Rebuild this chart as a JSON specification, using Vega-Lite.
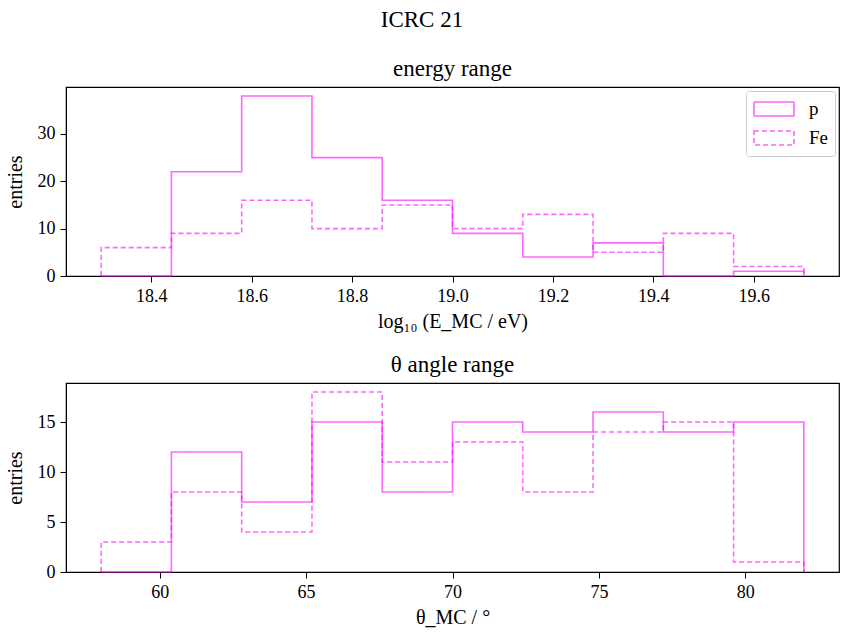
{
  "$schema": "https://vega.github.io/schema/vega-lite/v6.json",
  "padding": {"left": 4, "top": 9, "right": 2, "bottom": 2},
  "title": {"text": "ICRC 21", "fontSize": 23, "font": "Liberation Serif", "fontWeight": "normal", "anchor": "middle", "offset": 25, "color": "black"},
  "datasets": {
    "energy": [
      {"s": "p", "i": 0, "x": 18.3, "y": 0}, {"s": "p", "i": 1, "x": 18.3, "y": 0}, {"s": "p", "i": 2, "x": 18.44, "y": 22}, {"s": "p", "i": 3, "x": 18.58, "y": 38}, {"s": "p", "i": 4, "x": 18.72, "y": 25}, {"s": "p", "i": 5, "x": 18.86, "y": 16}, {"s": "p", "i": 6, "x": 19.0, "y": 9}, {"s": "p", "i": 7, "x": 19.14, "y": 4}, {"s": "p", "i": 8, "x": 19.28, "y": 7}, {"s": "p", "i": 9, "x": 19.42, "y": 0}, {"s": "p", "i": 10, "x": 19.56, "y": 1}, {"s": "p", "i": 11, "x": 19.7, "y": 1}, {"s": "p", "i": 12, "x": 19.7, "y": 0},
      {"s": "Fe", "i": 0, "x": 18.3, "y": 0}, {"s": "Fe", "i": 1, "x": 18.3, "y": 6}, {"s": "Fe", "i": 2, "x": 18.44, "y": 9}, {"s": "Fe", "i": 3, "x": 18.58, "y": 16}, {"s": "Fe", "i": 4, "x": 18.72, "y": 10}, {"s": "Fe", "i": 5, "x": 18.86, "y": 15}, {"s": "Fe", "i": 6, "x": 19.0, "y": 10}, {"s": "Fe", "i": 7, "x": 19.14, "y": 13}, {"s": "Fe", "i": 8, "x": 19.28, "y": 5}, {"s": "Fe", "i": 9, "x": 19.42, "y": 9}, {"s": "Fe", "i": 10, "x": 19.56, "y": 2}, {"s": "Fe", "i": 11, "x": 19.7, "y": 2}, {"s": "Fe", "i": 12, "x": 19.7, "y": 0}
    ],
    "theta": [
      {"s": "p", "i": 0, "x": 58, "y": 0}, {"s": "p", "i": 1, "x": 58, "y": 0}, {"s": "p", "i": 2, "x": 60.4, "y": 12}, {"s": "p", "i": 3, "x": 62.8, "y": 7}, {"s": "p", "i": 4, "x": 65.2, "y": 15}, {"s": "p", "i": 5, "x": 67.6, "y": 8}, {"s": "p", "i": 6, "x": 70, "y": 15}, {"s": "p", "i": 7, "x": 72.4, "y": 14}, {"s": "p", "i": 8, "x": 74.8, "y": 16}, {"s": "p", "i": 9, "x": 77.2, "y": 14}, {"s": "p", "i": 10, "x": 79.6, "y": 15}, {"s": "p", "i": 11, "x": 82, "y": 15}, {"s": "p", "i": 12, "x": 82, "y": 0},
      {"s": "Fe", "i": 0, "x": 58, "y": 0}, {"s": "Fe", "i": 1, "x": 58, "y": 3}, {"s": "Fe", "i": 2, "x": 60.4, "y": 8}, {"s": "Fe", "i": 3, "x": 62.8, "y": 4}, {"s": "Fe", "i": 4, "x": 65.2, "y": 18}, {"s": "Fe", "i": 5, "x": 67.6, "y": 11}, {"s": "Fe", "i": 6, "x": 70, "y": 13}, {"s": "Fe", "i": 7, "x": 72.4, "y": 8}, {"s": "Fe", "i": 8, "x": 74.8, "y": 14}, {"s": "Fe", "i": 9, "x": 77.2, "y": 15}, {"s": "Fe", "i": 10, "x": 79.6, "y": 1}, {"s": "Fe", "i": 11, "x": 82, "y": 1}, {"s": "Fe", "i": 12, "x": 82, "y": 0}
    ]
  },
  "spacing": 21,
  "resolve": {"legend": {"strokeDash": "independent"}, "scale": {"x": "independent", "y": "independent"}},
  "vconcat": [
    {
      "width": 773, "height": 189,
      "title": {"text": "energy range"},
      "data": {"name": "energy"},
      "mark": {"type": "line", "interpolate": "step-after", "stroke": "#ff00ff", "strokeOpacity": 0.6, "strokeWidth": 1.6},
      "encoding": {
        "x": {"field": "x", "type": "quantitative", "scale": {"domain": [18.23, 19.77], "nice": false, "zero": false}, "axis": {"values": [18.4, 18.6, 18.8, 19.0, 19.2, 19.4, 19.6], "format": ".1f", "title": "log₁₀ (E_MC / eV)"}},
        "y": {"field": "y", "type": "quantitative", "scale": {"domain": [0, 39.9], "nice": false}, "axis": {"values": [0, 10, 20, 30], "title": "entries"}},
        "order": {"field": "i", "type": "quantitative"},
        "strokeDash": {"field": "s", "type": "nominal", "scale": {"domain": ["p", "Fe"], "range": [[1, 0], [5, 3]]},
          "legend": {"title": null, "orient": "top-right", "offset": 4, "symbolType": "M-2,-0.7H2V0.7H-2Z", "symbolSize": 400, "symbolOffset": 10, "symbolStrokeColor": "#ff00ff", "symbolOpacity": 0.6, "symbolFillColor": "transparent", "symbolStrokeWidth": 1.6, "labelFontSize": 19, "labelFont": "Liberation Serif", "labelColor": "black", "labelOffset": 24, "rowPadding": 7, "padding": 7, "strokeColor": "#cccccc", "fillColor": "rgba(255,255,255,0.8)", "cornerRadius": 3}}
      }
    },
    {
      "width": 773, "height": 189,
      "title": {"text": "θ angle range"},
      "data": {"name": "theta"},
      "mark": {"type": "line", "interpolate": "step-after", "stroke": "#ff00ff", "strokeOpacity": 0.6, "strokeWidth": 1.6},
      "encoding": {
        "x": {"field": "x", "type": "quantitative", "scale": {"domain": [56.8, 83.2], "nice": false, "zero": false}, "axis": {"values": [60, 65, 70, 75, 80], "title": "θ_MC / °"}},
        "y": {"field": "y", "type": "quantitative", "scale": {"domain": [0, 18.9], "nice": false}, "axis": {"values": [0, 5, 10, 15], "title": "entries"}},
        "order": {"field": "i", "type": "quantitative"},
        "strokeDash": {"field": "s", "type": "nominal", "scale": {"domain": ["p", "Fe"], "range": [[1, 0], [5, 3]]}, "legend": null}
      }
    }
  ],
  "config": {
    "font": "Liberation Serif",
    "view": {"stroke": "black", "strokeWidth": 1.2},
    "title": {"fontSize": 23, "font": "Liberation Serif", "fontWeight": "normal", "color": "black", "offset": 6},
    "axis": {"grid": false, "domainColor": "black", "tickColor": "black", "tickSize": 6, "labelFont": "Liberation Serif", "labelFontSize": 18, "labelColor": "black", "titleFont": "Liberation Serif", "titleFontSize": 20, "titleFontWeight": "normal", "titleColor": "black", "labelPadding": 5},
    "axisX": {"titlePadding": 6},
    "axisY": {"titlePadding": 12}
  }
}
